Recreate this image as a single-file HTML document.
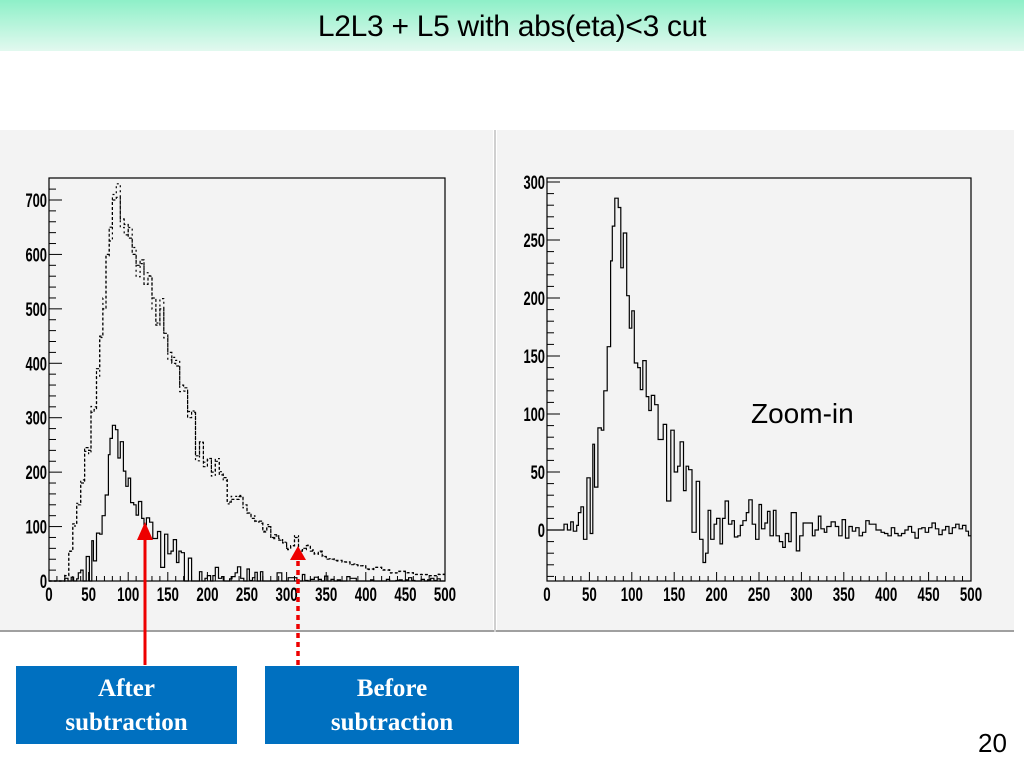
<!DOCTYPE html>
<html><head><meta charset="utf-8"><style>
body{margin:0;width:1024px;height:768px;overflow:hidden;background:#fff;font-family:"Liberation Sans",sans-serif;position:relative}
.title{position:absolute;left:0;top:0;width:1024px;height:51px;background:linear-gradient(#8ef0c8,#e2f9ef);text-align:center;font-size:30px;line-height:53px;color:#000;letter-spacing:-0.3px}
.box{position:absolute;top:666px;height:78px;background:#0070c0;color:#fff;font-family:"Liberation Serif",serif;font-weight:bold;font-size:25px;text-align:center;line-height:34px;padding-top:6px;box-sizing:border-box}
.num{position:absolute;left:978px;top:728px;font-size:26px}
</style></head><body>
<div class="title">L2L3 + L5 with abs(eta)&lt;3 cut</div>
<svg id="s" width="1024" height="768" style="position:absolute;left:0;top:0">
<rect x="0" y="130" width="493" height="502" fill="#f3f3f3"/>
<rect x="497" y="130" width="517" height="502" fill="#f3f3f3"/>
<line x1="0" y1="631" x2="1014" y2="631" stroke="#a0a0a0" stroke-width="2"/>
<line x1="495" y1="130" x2="495" y2="632" stroke="#d0d0d0" stroke-width="2"/>
<g id="g"></g>
<line x1="145" y1="665" x2="145" y2="540" stroke="#e00" stroke-width="3"/>
<polygon points="137,540 153,540 145,522" fill="#e00"/>
<line x1="298" y1="665" x2="298" y2="560" stroke="#e00" stroke-width="3.5" stroke-dasharray="5,4"/>
<polygon points="290,560 306,560 298,546" fill="#e00"/>
</svg>
<div class="box" style="left:16px;width:221px">After<br>subtraction</div>
<div class="box" style="left:265px;width:254px">Before<br>subtraction</div>
<div class="num">20</div>
<script>
var sub=[[0,0],[20,5],[24,0],[28,7],[31,-1],[35,4],[37,15],[40,20],[43,-8],[47,45],[51,-3],[54,74],[56,37],[60,88],[64,86],[67,120],[71,158],[75,232],[77,262],[80,286],[84,278],[87,226],[90,256],[94,202],[97,174],[100,189],[103,144],[107,140],[110,121],[113,146],[117,115],[120,103],[123,116],[127,108],[131,78],[137,91],[141,25],[146,86],[150,50],[154,55],[157,76],[161,34],[164,55],[167,52],[171,-2],[176,42],[180,-8],[184,-28],[187,-20],[190,17],[193,-8],[197,5],[200,10],[204,-12],[207,10],[210,25],[214,5],[218,8],[221,-6],[225,-5],[228,4],[231,8],[235,15],[238,26],[242,5],[246,-8],[250,22],[253,1],[257,6],[260,16],[263,-5],[267,17],[270,-5],[274,-10],[278,-15],[281,-3],[285,-10],[288,15],[294,-18],[298,-5],[302,6],[310,6],[313,-5],[316,0],[320,12],[323,1],[327,-2],[330,3],[335,7],[340,3],[344,-5],[348,9],[352,-7],[356,3],[360,-1],[364,2],[368,-5],[372,-2],[376,8],[380,5],[384,5],[388,0],[394,-2],[398,-3],[402,-5],[406,2],[410,-3],[414,-5],[418,-3],[422,0],[426,3],[430,-2],[434,-7],[438,1],[442,2],[446,-2],[450,2],[454,6],[458,1],[462,-4],[466,0],[470,3],[474,-3],[478,2],[482,5],[486,1],[490,4],[494,-1],[497,-5],[500,0]];
var bef=[[0,0],[20,10],[25,55],[30,105],[35,140],[40,180],[45,245],[50,240],[53,310],[57,315],[60,390],[64,450],[68,500],[72,600],[76,650],[80,700],[85,705],[90,665],[95,655],[100,630],[105,600],[110,580],[115,590],[120,545],[125,560],[130,520],[135,470],[140,500],[145,455],[150,420],[155,400],[160,395],[165,360],[170,355],[175,300],[180,310],[185,230],[190,255],[195,210],[200,225],[205,200],[210,220],[215,195],[220,190],[225,145],[230,150],[240,155],[245,140],[250,125],[255,115],[260,110],[265,110],[270,90],[275,100],[280,80],[285,85],[290,75],[295,70],[300,60],[305,65],[310,80],[315,55],[320,60],[325,65],[330,55],[335,50],[340,55],[345,45],[350,40],[360,38],[370,35],[380,30],[390,28],[400,22],[410,25],[420,20],[430,15],[440,18],[450,15],[460,12],[470,12],[480,10],[490,12],[500,0]];
var g=document.getElementById('g'),h='';
function sc(x,s){return 'transform="translate('+x+' 0) scale('+s+' 1) translate('+(-x)+' 0)"';}
function axes(x0,x1,yt,yb,yOf,ymin,ymax,ymaj,ymin2){
 h+='<rect x="'+x0+'" y="'+yt+'" width="'+(x1-x0)+'" height="'+(yb-yt)+'" fill="none" stroke="#000" stroke-width="1.2"/>';
 var sx=(x1-x0)/500;
 for(var v=0;v<=500;v+=10){var X=x0+v*sx,L=v%50==0?9:5;h+='<line x1="'+X+'" y1="'+yb+'" x2="'+X+'" y2="'+(yb-L)+'" stroke="#000"/>';
  if(v%50==0)h+='<text x="'+X+'" y="'+(yb+20)+'" text-anchor="middle" font-size="19" font-weight="bold" '+sc(X,0.7)+'>'+v+'</text>';}
 for(var v=ymin;v<=ymax;v+=ymin2){var Y=yOf(v),L=v%ymaj==0?13:7;h+='<line x1="'+x0+'" y1="'+Y+'" x2="'+(x0+L)+'" y2="'+Y+'" stroke="#000"/>';
  if(v%ymaj==0)h+='<text x="'+(x0-2)+'" y="'+(Y+7)+'" text-anchor="end" font-size="19" font-weight="bold" '+sc(x0-2,0.68)+'>'+v+'</text>';}
}
function hist(arr,x0,x1,yOf,clampY,extra,jit){
 var sx=(x1-x0)/500,d='M'+x0+' '+yOf(0);
 for(var i=0;i<arr.length-1;i++){var v=arr[i][1];if(jit)v=v*(1+0.04*Math.sin(i*1.7));var y=yOf(v);if(clampY!==null)y=Math.min(y,clampY);
  d+=' L'+(x0+arr[i][0]*sx).toFixed(1)+' '+y.toFixed(1)+' L'+(x0+arr[i+1][0]*sx).toFixed(1)+' '+y.toFixed(1);}
 h+='<path d="'+d+'" fill="none" stroke="#000" stroke-width="1.2" '+extra+'/>';
}
var L0=49,L1=445,yl=function(v){return 581-v*0.5443};
axes(L0,L1,178,581,yl,0,720,100,20);
hist(bef,L0,L1,yl,581,'stroke-dasharray="3,2" stroke="#222"',false);
hist(bef,L0,L1,yl,581,'stroke-dasharray="2,3" stroke-width="0.8"',true);
hist(sub,L0,L1,yl,581,'',false);
var R0=547,R1=971,yr=function(v){return 530-v*1.16};
axes(R0,R1,178,581,yr,-40,300,50,10);
hist(sub,R0,R1,yr,null,'',false);
h+='<text x="751" y="423" font-size="28" font-family="Liberation Sans">Zoom-in</text>';
g.innerHTML=h;
</script>
</body></html>
